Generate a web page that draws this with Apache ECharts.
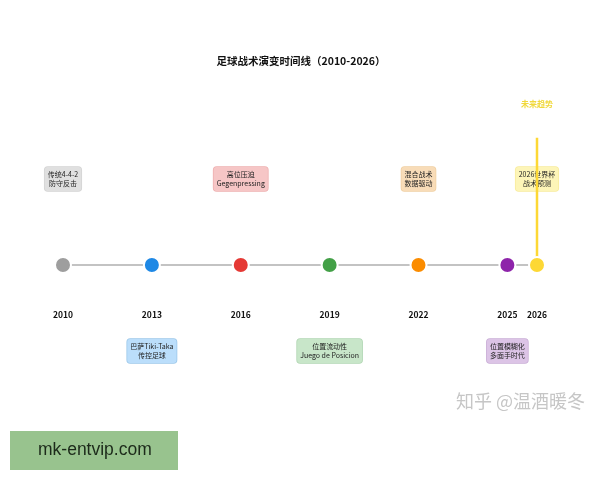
<!DOCTYPE html>
<html>
<head>
<meta charset="utf-8">
<style>
  html, body { margin: 0; padding: 0; background: #fff; }
  #main { width: 600px; height: 480px; }
</style>
<script src="https://cdn.jsdelivr.net/npm/echarts@6/dist/echarts.min.js"></script>
</head>
<body>
<div id="main"></div>
<script>
const FONT = '"Noto Sans CJK SC", "Noto Sans", sans-serif';

const years = [2010, 2013, 2016, 2019, 2022, 2025, 2026];
const dotColors = ['#9e9e9e', '#1e88e5', '#e53935', '#43a047', '#fb8c00', '#8e24aa', '#fdd835'];
const boxColors = ['#e0e0e0', '#bbdefb', '#f6c6c6', '#c8e6c9', '#f8dcb8', '#dcc4e6', '#fdf5b8'];
const boxBorders = ['#d4d4d4', '#9cc8ea', '#eeb0b0', '#b0d6b2', '#f0cfa2', '#c9add6', '#f8ec9c'];
const tactics = [
  '传统4-4-2\n防守反击',
  '巴萨Tiki-Taka\n传控足球',
  '高位压迫\nGegenpressing',
  '位置流动性\nJuego de Posicion',
  '混合战术\n数据驱动',
  '位置模糊化\n多面手时代',
  '2026世界杯\n战术预测'
];
const tacticY = [1, -1, 1, -1, 1, -1, 1];
const yearLabelY = -0.58;
const futureTop = 1.48;
const futureLabelY = 1.87;
const futureLabel = '未来趋势';

const chart = echarts.init(document.getElementById('main'));

chart.setOption({
  animation: false,
  backgroundColor: '#fff',
  title: {
    text: '足球战术演变时间线（2010-2026）',
    left: 296,
    top: 51,
    textAlign: 'center',
    textStyle: { fontFamily: FONT, fontSize: 10.5, fontWeight: 'bold', color: '#111' }
  },
  grid: { left: 63, top: 93, width: 474, height: 344 },
  xAxis: { type: 'value', min: 2010, max: 2026, show: false },
  yAxis: { type: 'value', min: -2, max: 2, show: false },
  series: [
    {
      // 时间轴
      type: 'line',
      data: years.map(y => [y, 0]),
      symbol: 'none',
      z: 1,
      lineStyle: { color: '#b0b0b0', width: 1.5 }
    },
    {
      // 战术标签
      type: 'scatter',
      symbolSize: 0,
      z: 2,
      itemStyle: { opacity: 1 },
      data: years.map((y, i) => ({
        value: [y, tacticY[i]],
        label: {
          show: true,
          position: 'inside',
          formatter: tactics[i],
          fontFamily: FONT,
          fontSize: 7,
          lineHeight: 9,
          color: '#222',
          align: 'center',
          verticalAlign: 'middle',
          backgroundColor: boxColors[i],
          borderColor: boxBorders[i],
          borderWidth: 0.8,
          borderRadius: 3,
          padding: [3, 3]
        }
      }))
    },
    {
      // 未来趋势竖线
      type: 'line',
      data: [[2026, 0], [2026, futureTop]],
      symbol: 'none',
      z: 3,
      lineStyle: { color: '#fdd835', width: 2.5 }
    },
    {
      // 节点
      type: 'scatter',
      symbolSize: 16,
      z: 4,
      data: years.map((y, i) => ({
        value: [y, 0],
        itemStyle: { color: dotColors[i], borderColor: '#fff', borderWidth: 2, opacity: 1 }
      }))
    },
    {
      // 年份
      type: 'scatter',
      symbolSize: 0,
      z: 2,
      itemStyle: { opacity: 1 },
      data: years.map(y => ({
        value: [y, yearLabelY],
        label: {
          show: true,
          position: 'inside',
          formatter: String(y),
          fontFamily: FONT,
          fontSize: 8.5,
          fontWeight: 'bold',
          color: '#111'
        }
      }))
    },
    {
      type: 'scatter',
      symbolSize: 0,
      z: 2,
      itemStyle: { opacity: 1 },
      data: [{
        value: [2026, futureLabelY],
        label: {
          show: true,
          position: 'inside',
          formatter: futureLabel,
          fontFamily: FONT,
          fontSize: 8,
          fontWeight: 'bold',
          color: '#f0d83c'
        }
      }]
    }
  ],
  graphic: [
    {
      type: 'text',
      left: 456,
      top: 392,
      style: { text: '知乎 @温酒暖冬', font: '18px ' + FONT, fill: '#c6c6c6' }
    },
    {
      type: 'rect',
      left: 10,
      top: 431,
      shape: { width: 168, height: 39 },
      style: { fill: '#98c38e' }
    },
    {
      type: 'text',
      left: 38,
      top: 441,
      style: { text: 'mk-entvip.com', font: '17.5px "Liberation Sans", sans-serif', fill: '#1c2a1a' }
    }
  ]
});
</script>
</body>
</html>
